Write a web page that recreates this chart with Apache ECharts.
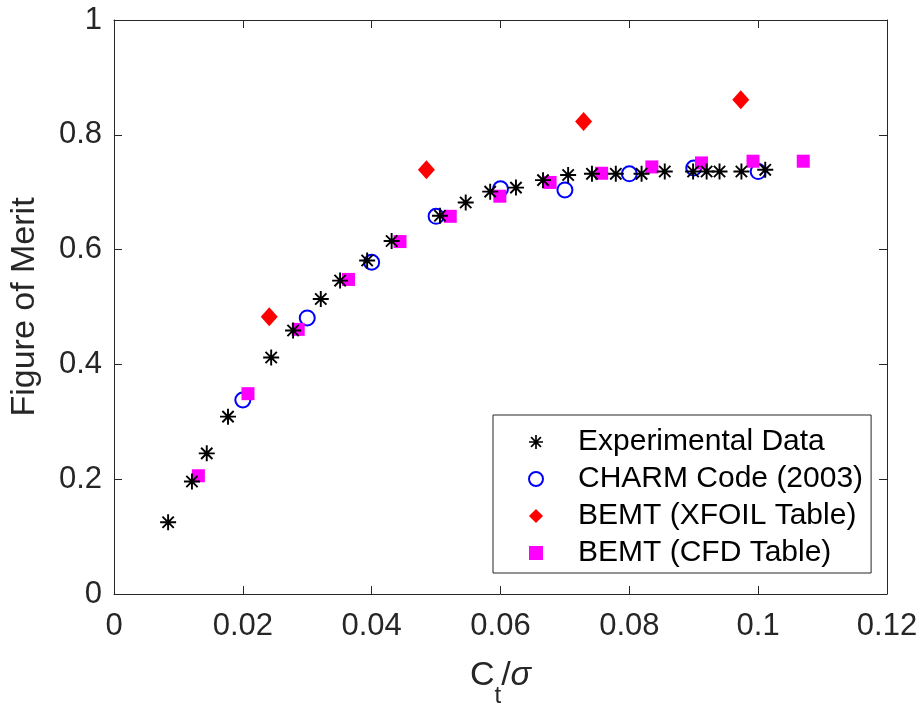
<!DOCTYPE html>
<html>
<head>
<meta charset="utf-8">
<script src="https://cdn.jsdelivr.net/npm/echarts@6/dist/echarts.min.js"></script>
<style>
html,body{margin:0;padding:0;background:#fff;}
#chart{width:924px;height:706px;}
</style>
</head>
<body>
<div id="chart"></div>
<script>
// ---- data ----
const seriesNames = ['Experimental Data', 'CHARM Code (2003)', 'BEMT (XFOIL Table)', 'BEMT (CFD Table)'];

const expX = [0.0084, 0.0121, 0.0144, 0.0177, 0.0244, 0.0278, 0.0321, 0.0351, 0.0393, 0.0431, 0.0506, 0.0546, 0.0584, 0.0624,
              0.0666, 0.0705, 0.0742, 0.0779, 0.0819, 0.0855, 0.0899, 0.0920, 0.0940, 0.0974, 0.1011];
const expY = [0.125, 0.196, 0.245, 0.309, 0.412, 0.459, 0.514, 0.546, 0.581, 0.615, 0.659, 0.682, 0.701, 0.708,
              0.721, 0.730, 0.732, 0.732, 0.732, 0.736, 0.736, 0.736, 0.736, 0.736, 0.739];

const charmX = [0.020, 0.030, 0.040, 0.050, 0.060, 0.070, 0.080, 0.090, 0.100];
const charmY = [0.338, 0.481, 0.578, 0.658, 0.706, 0.704, 0.732, 0.742, 0.736];

const xfoilX = [0.0241, 0.0485, 0.0729, 0.0973];
const xfoilY = [0.483, 0.739, 0.823, 0.861];

const cfdX = [0.0131, 0.0208, 0.0286, 0.0364, 0.0444, 0.0522, 0.0599, 0.0677, 0.0757, 0.0835, 0.0912, 0.0992, 0.1070];
const cfdY = [0.206, 0.349, 0.461, 0.548, 0.614, 0.658, 0.693, 0.717, 0.733, 0.744, 0.751, 0.754, 0.754];

const xMin = 0, xMax = 0.12, xStep = 0.02;
const yMin = 0, yMax = 1, yStep = 0.2;

// ---- chart ----
const FONT = '"Liberation Sans", Arial, Helvetica, sans-serif';
const AXC = '#262626';
const asterisk = 'path://M8.8,0 L11.2,0 L11.2,20 L8.8,20 Z M0,8.8 L20,8.8 L20,11.2 L0,11.2 Z ' +
  'M3.78,2.08 L17.92,16.22 L16.22,17.92 L2.08,3.78 Z M16.22,2.08 L17.92,3.78 L3.78,17.92 L2.08,16.22 Z';

function pairs(xs, ys) { return xs.map((x, i) => [x, ys[i]]); }

const chart = echarts.init(document.getElementById('chart'), null, {renderer: 'canvas'});

const frameAxis = {
  axisLine: {show: true, onZero: false, lineStyle: {color: AXC, width: 1}},
  axisTick: {show: true, inside: true, length: 8, lineStyle: {color: AXC, width: 1}},
  splitLine: {show: false}
};

chart.setOption({
  animation: false,
  backgroundColor: '#ffffff',
  grid: {left: 114, right: 37, top: 20, bottom: 112, containLabel: false, outerBoundsMode: 'none'},
  xAxis: [
    Object.assign({}, frameAxis, {
      type: 'value', position: 'bottom', min: xMin, max: xMax, interval: xStep,
      axisLabel: {show: true, margin: 17, fontSize: 31, lineHeight: 31, color: AXC, fontFamily: FONT},
      name: '{a|C}{b|t}{c|/}{d|σ}',
      nameLocation: 'middle', nameGap: 65,
      nameTextStyle: {
        color: AXC, fontFamily: FONT,
        rich: {
          a: {fontSize: 34, lineHeight: 34, verticalAlign: 'top', color: AXC, fontFamily: FONT},
          b: {fontSize: 24, lineHeight: 75, verticalAlign: 'middle', color: AXC, fontFamily: FONT},
          c: {fontSize: 34, lineHeight: 34, verticalAlign: 'top', color: AXC, fontFamily: FONT},
          d: {fontSize: 34, lineHeight: 34, verticalAlign: 'top', fontStyle: 'italic', color: AXC, fontFamily: FONT}
        }
      }
    }),
    Object.assign({}, frameAxis, {
      type: 'value', position: 'top', min: xMin, max: xMax, interval: xStep,
      axisLabel: {show: false}
    })
  ],
  yAxis: [
    Object.assign({}, frameAxis, {
      type: 'value', position: 'left', min: yMin, max: yMax, interval: yStep,
      axisLabel: {show: true, margin: 12, fontSize: 31, lineHeight: 31, color: AXC, fontFamily: FONT},
      name: 'Figure of Merit', nameLocation: 'middle', nameGap: 72,
      nameTextStyle: {fontSize: 34, lineHeight: 34, color: AXC, fontFamily: FONT}
    }),
    Object.assign({}, frameAxis, {
      type: 'value', position: 'right', min: yMin, max: yMax, interval: yStep,
      axisLabel: {show: false}
    })
  ],
  legend: {
    show: true, orient: 'vertical', left: 493, top: 415,
    itemWidth: 14, itemHeight: 14, itemGap: 7,
    padding: [12, 8, 5, 35],
    borderColor: AXC, borderWidth: 1, backgroundColor: '#ffffff',
    textStyle: {fontSize: 30, lineHeight: 30, color: '#000000', fontFamily: FONT, padding: [0, 0, 0, 30]},
    data: seriesNames
  },
  series: [
    {
      name: seriesNames[0], type: 'scatter', xAxisIndex: 0, yAxisIndex: 0,
      symbol: asterisk, symbolSize: 16,
      itemStyle: {color: '#000000', opacity: 1},
      data: pairs(expX, expY), z: 5
    },
    {
      name: seriesNames[1], type: 'scatter', xAxisIndex: 0, yAxisIndex: 0,
      symbol: 'emptyCircle', symbolSize: 15,
      itemStyle: {color: '#0000ff', borderColor: '#0000ff', borderWidth: 1.5, opacity: 1},
      data: pairs(charmX, charmY), z: 3
    },
    {
      name: seriesNames[2], type: 'scatter', xAxisIndex: 0, yAxisIndex: 0,
      symbol: 'diamond', symbolSize: [17, 19],
      itemStyle: {color: '#ff0000', opacity: 1},
      data: pairs(xfoilX, xfoilY), z: 4
    },
    {
      name: seriesNames[3], type: 'scatter', xAxisIndex: 0, yAxisIndex: 0,
      symbol: 'rect', symbolSize: 13,
      itemStyle: {color: '#ff00ff', opacity: 1},
      data: pairs(cfdX, cfdY), z: 4
    }
  ]
});
</script>
</body>
</html>
